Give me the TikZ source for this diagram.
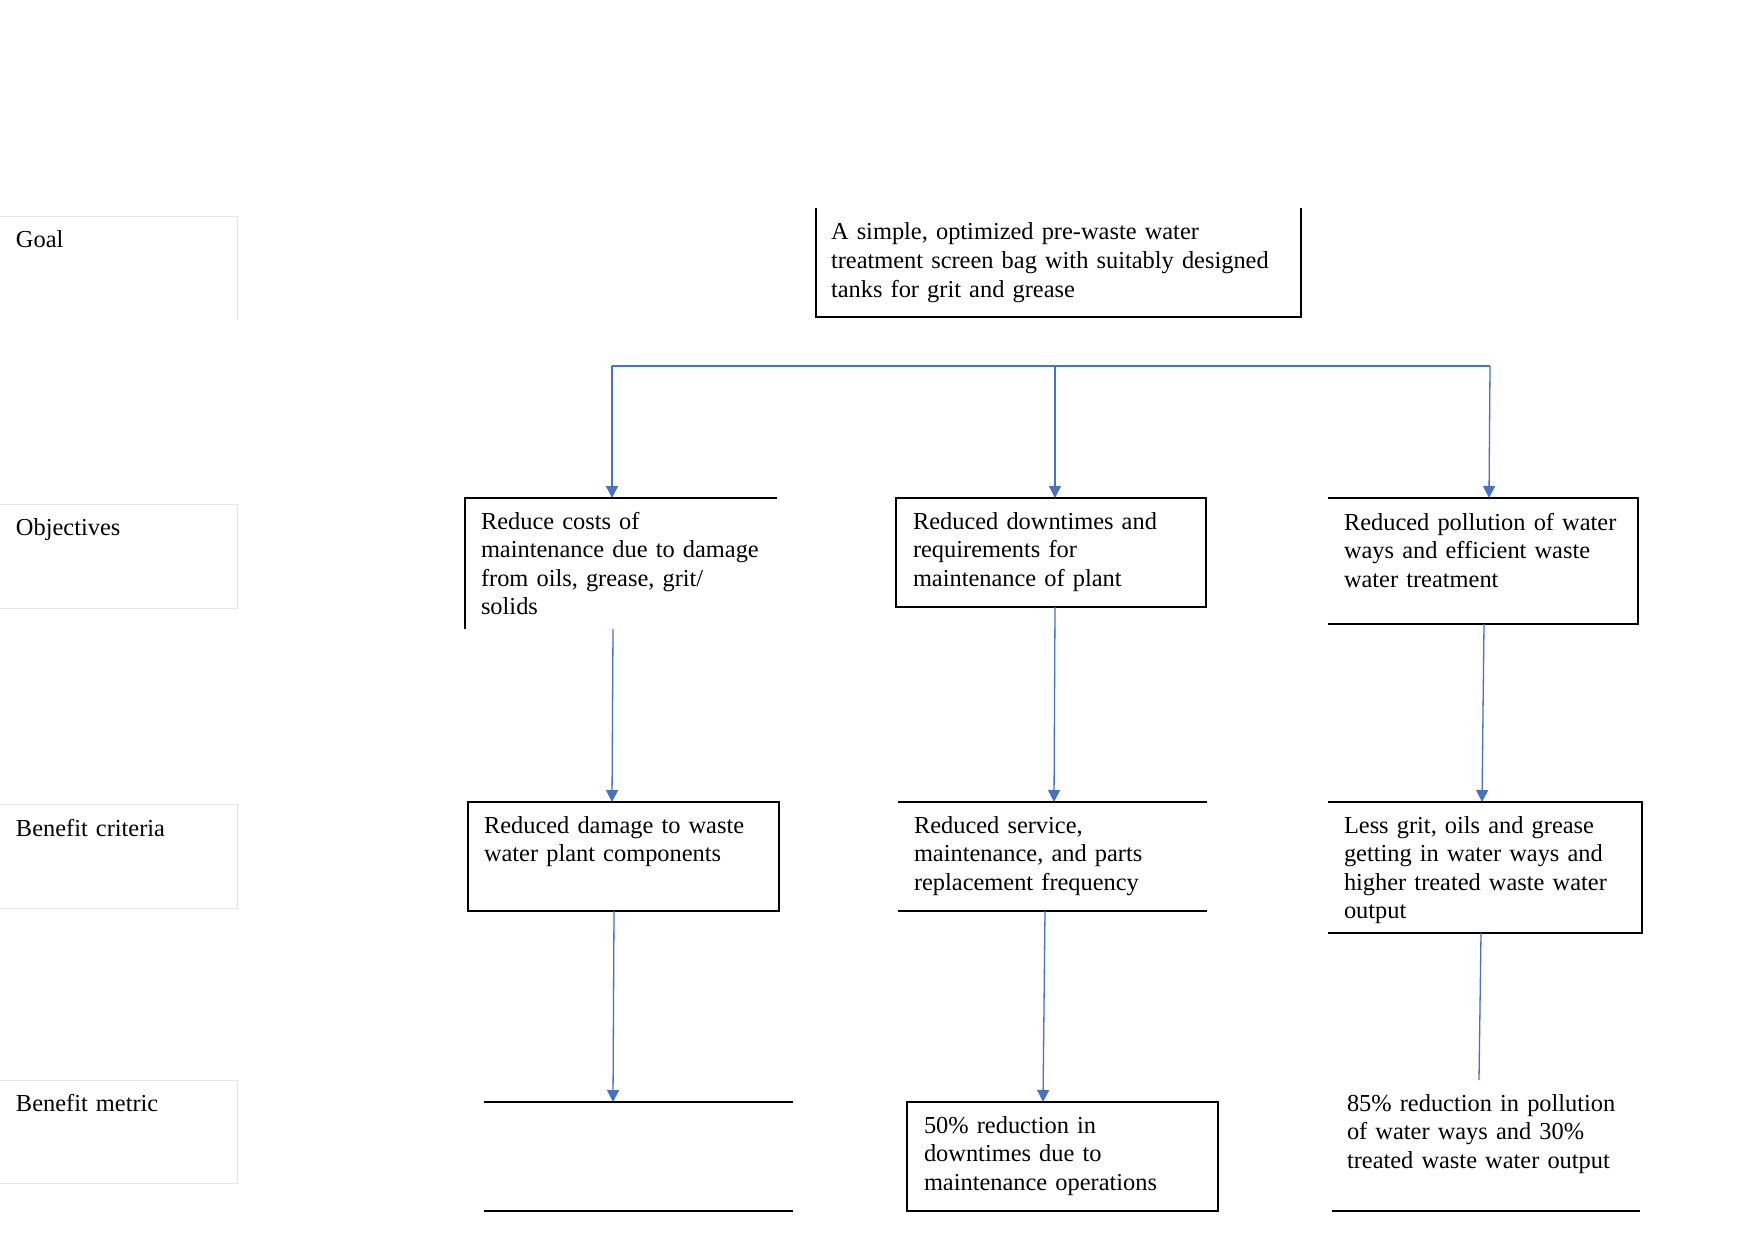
\documentclass[tikz,border=0pt]{standalone}
\usepackage{fontspec}
\setmainfont{Liberation Serif}
\usetikzlibrary{arrows.meta}
\definecolor{connc}{HTML}{4472C4}
\definecolor{faint}{HTML}{E6E6E6}
\begin{document}
\begin{tikzpicture}[x=1pt,y=-1pt,
  box/.style={inner sep=0pt,outer sep=0pt,draw=none,anchor=north west},
  edge/.style={line width=1.2pt,black},
  lbledge/.style={line width=1pt,faint},
  txt/.style={inner sep=0pt,outer sep=0pt,anchor=base west,align=left,text width=470pt,font=\fontsize{24.4}{28.6}\selectfont},
  conn/.style={line width=1.3pt,draw=connc},
  arr/.style={conn,-{Triangle[width=12pt,length=12pt]}}]
\fill[white] (0,0) rectangle (1754,1241);
\useasboundingbox (0,0) rectangle (1754,1241);

% row labels
\node[box,minimum width=237pt,minimum height=103pt] (L1) at (0,217) {};
\node[box,minimum width=237pt,minimum height=104pt] (L2) at (0,504) {};
\node[box,minimum width=237pt,minimum height=104pt] (L3) at (0,804) {};
\node[box,minimum width=237pt,minimum height=103pt] (L4) at (0,1080) {};
\draw[lbledge] (L1.north west) -- (L1.north east) -- (L1.south east);
\draw[lbledge] (L2.north west) -- (L2.north east) -- (L2.south east) -- (L2.south west);
\draw[lbledge] (L3.north west) -- (L3.north east) -- (L3.south east) -- (L3.south west);
\draw[lbledge] (L4.north west) -- (L4.north east) -- (L4.south east) -- (L4.south west);
\node[txt] (L1t) at (16,248) {Goal};
\node[txt] (L2t) at (16,535) {Objectives};
\node[txt] (L3t) at (16,836) {Benefit criteria};
\node[txt] (L4t) at (16,1111) {Benefit metric};

% goal
\node[box,minimum width=485pt,minimum height=109pt] (G) at (816,208) {};
\draw[edge] (G.north west) -- (G.south west) -- (G.south east) -- (G.north east);
\node[txt] (Gt) at (831,240) {A simple, optimized pre-waste water\\treatment screen bag with suitably designed\\tanks for grit and grease};

% objectives
\node[box,minimum width=312pt,minimum height=131pt] (O1) at (465,498) {};
\draw[edge] (O1.north east) -- (O1.north west) -- (O1.south west);
\node[txt] (O1t) at (481,529) {Reduce costs of\\maintenance due to damage\\from oils, grease, grit/\\solids};

\node[box,minimum width=310pt,minimum height=109pt] (O2) at (896,498) {};
\draw[edge] (O2.north west) rectangle (O2.south east);
\node[txt] (O2t) at (913,529) {Reduced downtimes and\\requirements for\\maintenance of plant};

\node[box,minimum width=310pt,minimum height=126pt] (O3) at (1328,498) {};
\draw[edge] (O3.north west) -- (O3.north east) -- (O3.south east) -- (O3.south west);
\node[txt] (O3t) at (1344,530) {Reduced pollution of water\\ways and efficient waste\\water treatment};

% benefit criteria
\node[box,minimum width=311pt,minimum height=109pt] (C1) at (468,802) {};
\draw[edge] (C1.north west) rectangle (C1.south east);
\node[txt] (C1t) at (484,833) {Reduced damage to waste\\water plant components};

\node[box,minimum width=309pt,minimum height=109pt] (C2) at (898,802) {};
\draw[edge] (C2.north west) -- (C2.north east);
\draw[edge] (C2.south west) -- (C2.south east);
\node[txt] (C2t) at (914,833) {Reduced service,\\maintenance, and parts\\replacement frequency};

\node[box,minimum width=314pt,minimum height=131pt] (C3) at (1328,802) {};
\draw[edge] (C3.north west) -- (C3.north east) -- (C3.south east) -- (C3.south west);
\node[txt] (C3t) at (1344,833) {Less grit, oils and grease\\getting in water ways and\\higher treated waste water\\output};

% benefit metrics
\node[box,minimum width=309pt,minimum height=109pt] (M1) at (484,1102) {};
\draw[edge] (M1.north west) -- (M1.north east);
\draw[edge] (M1.south west) -- (M1.south east);

\node[box,minimum width=311pt,minimum height=109pt] (M2) at (907,1102) {};
\draw[edge] (M2.north west) rectangle (M2.south east);
\node[txt] (M2t) at (924,1133) {50\% reduction in\\downtimes due to\\maintenance operations};

\node[box,minimum width=308pt,minimum height=131pt] (M3) at (1332,1080) {};
\draw[edge] (M3.south west) -- (M3.south east);
\node[txt] (M3t) at (1347,1111) {85\% reduction in pollution\\of water ways and 30\%\\treated waste water output};

% connectors
\coordinate (hL) at (612,366);
\coordinate (hM) at (1055,366);
\coordinate (hR) at (1490,366);
\draw[conn] (hL) -- (hR);
\draw[arr] (hL) -- (hL |- O1.north);
\draw[arr] (hM) -- (hM |- O2.north);
\draw[arr] (hR) -- ([xshift=6pt]O3.north);

\draw[arr] ([xshift=-8pt]O1.south) -- ([xshift=-11.5pt]C1.north);
\draw[arr] ([xshift=4pt]O2.south) -- ([xshift=1.5pt]C2.north);
\draw[arr] ([xshift=1pt]O3.south) -- ([xshift=-3pt]C3.north);

\draw[arr] ([xshift=-9.5pt]C1.south) -- ([xshift=-25.5pt]M1.north);
\draw[arr] ([xshift=-7.5pt]C2.south) -- ([xshift=-19.5pt]M2.north);
\draw[conn] ([xshift=-4pt]C3.south) -- ([xshift=-7pt]M3.north);
\end{tikzpicture}
\end{document}
